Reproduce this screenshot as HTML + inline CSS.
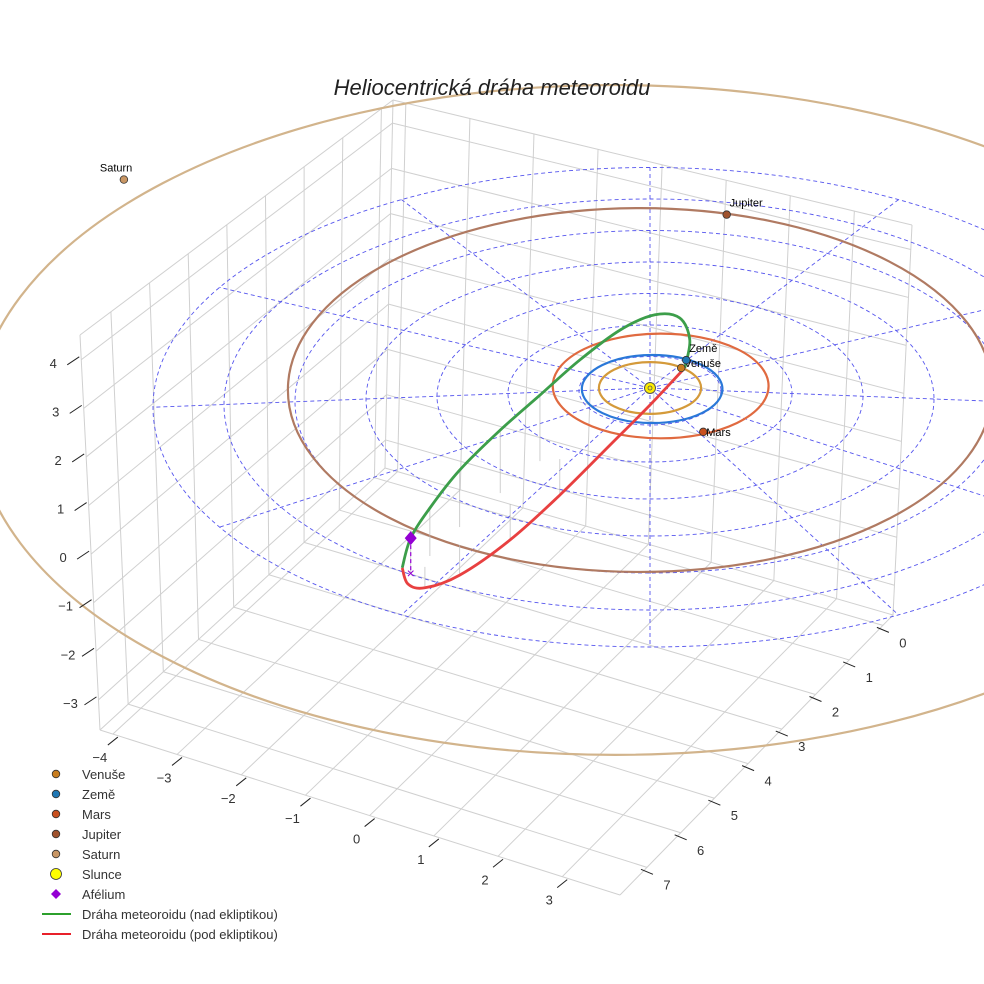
<!DOCTYPE html>
<html><head><meta charset="utf-8"><style>
html,body{margin:0;padding:0;background:#fff}
svg{display:block;font-family:"Liberation Sans",sans-serif}
</style></head><body>
<svg id="chart" width="984" height="984" viewBox="0 0 984 984" xmlns="http://www.w3.org/2000/svg">
<rect x="0" y="0" width="984" height="984" fill="#fff"/>
<g id="panes"></g>
<g id="ecl"></g>
<g id="orbits"></g>
<g id="meteor"></g>
<g id="planets"></g>
<g id="ticks"></g>
<text x="492" y="95" text-anchor="middle" font-size="22" font-style="italic" fill="#222">Heliocentrická dráha meteoroidu</text>
<g id="legend"></g>
</svg>
<script>
// ---- data ----
const xTicks = [-4,-3,-2,-1,0,1,2,3];
const yTicks = [0,1,2,3,4,5,6,7];
const zTicks = [-3,-2,-1,0,1,2,3,4];
const ringRadii = [1,2,3,4,5,6,7];
const radialAngles = [0,30,60,90,120,150,180,210,240,270,300,330];
const planetNames = ["Venuše","Země","Mars","Jupiter","Saturn"];
const planetX = [0.44,0.51,0.75,1.08,-7.41];
const planetY = [-0.59,-0.82,1.29,-5.1,-6.13];
const orbitCx = [0.0,0.03,0.15,-0.14,-0.49];
const orbitCy = [0.0,0.03,-0.06,0.06,0.94];
const orbitRx = [0.72,0.99,1.52,4.96,9.01];
const orbitRy = [0.76,1.0,1.54,5.35,9.85];
const greenX = [0.49,0.56,0.42,0.07,-0.42,-0.99,-1.55,-2.11,-2.68,-3.10,-3.37,-3.49];
const greenY = [-0.59,-0.88,-1.0,-0.74,0.06,1.12,2.15,3.09,4.09,4.94,5.44,5.29];
const greenZ = [0,0.3,0.6,0.8,1.0,1.1,1.1,1.05,0.95,0.8,0.58,0];
const redX = [-3.49,-3.41,-3.17,-2.68,-1.97,-1.27,-0.56,0,0.49];
const redY = [5.29,5.41,5.26,4.62,3.41,2.09,0.79,-0.03,-0.59];
const redZ = [0,-0.2,-0.35,-0.5,-0.6,-0.6,-0.5,-0.3,0];
const aphelion = [-3.37,5.44,0.58];

// ---- projection ----
const SX=650, SY=388, KX=71, KY=34, KZ=60;
function px(X){return SX+KX*X;}
function py(Y,Z){return SY+KY*Y-KZ*(Z||0);}
const NS="http://www.w3.org/2000/svg";
function mk(tag,attrs,parent){const e=document.createElementNS(NS,tag);for(const k in attrs)e.setAttribute(k,attrs[k]);parent.appendChild(e);return e;}

// ---- box panes ----
const A=[100,730],B=[620,895],C=[893,615],D=[385,468];
const At=[80,335],Ct=[912,225],Dt=[393,100];
const xmin=-4.2,xmax=3.9,ymin=-0.3,ymax=7.8,zmin=-3.62,zmax=4.51;
function lerp(p,q,t){return [p[0]+(q[0]-p[0])*t,p[1]+(q[1]-p[1])*t];}
const panes=document.getElementById('panes');
function gl(p,q){const l=mk('line',{x1:p[0],y1:p[1],x2:q[0],y2:q[1],stroke:'#d0d0d0','stroke-width':1},panes);

}
xTicks.forEach(v=>{const t=(v-xmin)/(xmax-xmin);
  gl(lerp(A,B,t), lerp(D,C,t));
  gl(lerp(D,C,t), lerp(Dt,Ct,t));});
yTicks.forEach(v=>{const t=(ymax-v)/(ymax-ymin);
  gl(lerp(B,C,t), lerp(A,D,t));
  gl(lerp(A,D,t), lerp(At,Dt,t));});
zTicks.forEach(v=>{const t=(v-zmin)/(zmax-zmin);
  const l1=lerp(A,At,t), l2=lerp(D,Dt,t), l3=lerp(C,Ct,t); gl(l1,l2); gl(l2,l3);});
gl(A,At);gl(D,Dt);gl(C,Ct);gl(At,Dt);gl(Dt,Ct);gl(A,B);gl(B,C);gl(A,D);gl(D,C);

// ---- ecliptic dashed grid ----
const ecl=document.getElementById('ecl');
ringRadii.forEach(r=>{const e=mk('ellipse',{cx:SX,cy:SY+2.75*r,rx:KX*r,ry:34.25*r,fill:'none',stroke:'#5555ee','stroke-width':0.9,'stroke-dasharray':'4,3'},ecl);
  
  });
const rMax=ringRadii[ringRadii.length-1];
radialAngles.forEach(a=>{const th=a*Math.PI/180;
  const x2=SX+KX*rMax*Math.cos(th), y2=SY+2.75*rMax+34.25*rMax*Math.sin(th);
  const l=mk('line',{x1:SX,y1:SY,x2:x2,y2:y2,stroke:'#5555ee','stroke-width':0.9,'stroke-dasharray':'4,3'},ecl);
  
  });

// ---- planet orbits ----
const orbitColors=['#d49a3a','#2a78d8','#e06a40','#b07a62','#d2b48c'];
const orbitsG=document.getElementById('orbits');
planetNames.forEach((n,i)=>{const e=mk('ellipse',{cx:px(orbitCx[i]),cy:py(orbitCy[i]),rx:KX*orbitRx[i],ry:KY*orbitRy[i],fill:'none',stroke:orbitColors[i],'stroke-width':2.2},orbitsG);
  
  });

// ---- meteoroid ----
const met=document.getElementById('meteor');
function smooth(pts){let d='M'+pts[0][0]+','+pts[0][1];
  for(let i=0;i<pts.length-1;i++){const p0=pts[i-1]||pts[i],p1=pts[i],p2=pts[i+1],p3=pts[i+2]||p2;
    const c1=[p1[0]+(p2[0]-p0[0])/6,p1[1]+(p2[1]-p0[1])/6],c2=[p2[0]-(p3[0]-p1[0])/6,p2[1]-(p3[1]-p1[1])/6];
    d+=' C'+c1[0].toFixed(1)+','+c1[1].toFixed(1)+' '+c2[0].toFixed(1)+','+c2[1].toFixed(1)+' '+p2[0].toFixed(1)+','+p2[1].toFixed(1);}
  return d;}
function drops(Xs,Ys,Zs){Xs.forEach((x,i)=>{if(Math.abs(Zs[i])<0.05)return;
  const l=mk('line',{x1:px(x),y1:py(Ys[i],Zs[i]),x2:px(x),y2:py(Ys[i]),stroke:'#bbbbbb','stroke-width':0.7},met);
  
  });}
drops(greenX.slice(6),greenY.slice(6),greenZ.slice(6));
drops(redX.slice(2,6),redY.slice(2,6),redZ.slice(2,6));
const gp=mk('path',{d:smooth(greenX.map((x,i)=>[px(x),py(greenY[i],greenZ[i])])),fill:'none',stroke:'#3c9e4a','stroke-width':2.8},met);


const rp=mk('path',{d:smooth(redX.map((x,i)=>[px(x),py(redY[i],redZ[i])])),fill:'none',stroke:'#e84040','stroke-width':2.8},met);


const ax=px(aphelion[0]),ay=py(aphelion[1],aphelion[2]),ay0=py(aphelion[1]);
const al=mk('line',{x1:ax,y1:ay,x2:ax,y2:ay0,stroke:'#9400d3','stroke-width':1.2,'stroke-dasharray':'4,3'},met);


const ad=mk('path',{d:`M${ax},${ay-7} L${ax+6},${ay} L${ax},${ay+7} L${ax-6},${ay} Z`,fill:'#9400d3'},met);


const ac=mk('text',{x:ax,y:ay0+5,'text-anchor':'middle','font-size':14,fill:'#9400d3'},met);ac.textContent='×';



// ---- planets ----
const pColors=['#c87d1e','#1f77b4','#c8501e','#a0522d','#c89664'];
const pl=document.getElementById('planets');
const sun=mk('circle',{cx:SX,cy:SY,r:5.5,fill:'#ffee00',stroke:'#555','stroke-width':1},pl);


const sd=mk('circle',{cx:SX,cy:SY,r:2,fill:'none',stroke:'#555','stroke-width':0.8},pl);


planetNames.forEach((n,i)=>{const x=px(planetX[i]),y=py(planetY[i]);
  const c=mk('circle',{cx:x,cy:y,r:3.8,fill:pColors[i],stroke:'#333','stroke-width':0.8},pl);
  
  
  const dx=(n==='Saturn')?-24:3, dy=(n==='Mars')?4:(n==='Venuše'?-1:-8);
  const t=mk('text',{x:x+dx,y:y+dy,'font-size':11,fill:'#000'},pl);t.textContent=n;
  
  });

// ---- ticks ----
const tk=document.getElementById('ticks');
function tlabel(x,y,s){const t=mk('text',{x:x,y:y,'font-size':13,fill:'#333','text-anchor':'middle'},tk);t.textContent=s;
  
  }
function tmark(p,dx,dy){const l=mk('line',{x1:p[0],y1:p[1],x2:p[0]+dx,y2:p[1]+dy,stroke:'#222','stroke-width':1},tk);
  
  }
function fmt(v){return v<0?'\u2212'+(-v):''+v;}
xTicks.forEach(v=>{const p=lerp(A,B,(v-xmin)/(xmax-xmin));tmark([p[0]+5,p[1]+3],-10,8);tlabel(p[0]-13,p[1]+28,fmt(v));});
yTicks.forEach(v=>{const p=lerp(C,B,(v-ymin)/(ymax-ymin));tmark([p[0]-6,p[1]+2],12,5);tlabel(p[0]+20,p[1]+22,fmt(v));});
zTicks.forEach(v=>{const p=lerp(A,At,(v-zmin)/(zmax-zmin));tmark([p[0]-2,p[1]-3],-12,8);tlabel(p[0]-28,p[1]+8,fmt(v));});

// ---- legend ----
const lg=document.getElementById('legend');
const legNames=["Venuše","Země","Mars","Jupiter","Saturn","Slunce","Afélium","Dráha meteoroidu (nad ekliptikou)","Dráha meteoroidu (pod ekliptikou)"];
legNames.forEach((n,i)=>{const y=774+20*i;
  let m;
  if(i<5){m=mk('circle',{cx:56,cy:y,r:3.8,fill:pColors[i],stroke:'#333','stroke-width':0.8},lg);}
  else if(i===5){m=mk('circle',{cx:56,cy:y,r:5.5,fill:'#ffff00',stroke:'#333','stroke-width':0.8},lg);}
  else if(i===6){m=mk('path',{d:`M56,${y-5} L61,${y} L56,${y+5} L51,${y} Z`,fill:'#9400d3'},lg);}
  else{m=mk('line',{x1:42,y1:y,x2:71,y2:y,stroke:i===7?'#2ca02c':'#e8202a','stroke-width':2},lg);}
  
  
  const t=mk('text',{x:82,y:y+5,'font-size':13,fill:'#333'},lg);t.textContent=n;
  
  });
</script>
</body></html>
